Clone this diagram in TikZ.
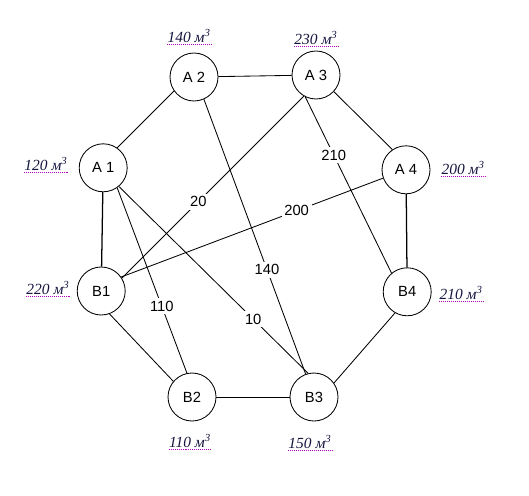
\documentclass[tikz,border=0pt]{standalone}
\usepackage{fontspec}
\setmainfont{Liberation Serif}
\setsansfont{Liberation Sans}
\definecolor{volblue}{rgb}{0.08,0.08,0.25}
\definecolor{dotpurple}{rgb}{0.7,0,0.75}

\begin{document}
\begin{tikzpicture}[
    pt/.style={draw, circle, minimum size=1.2cm, inner sep=0pt, line width=0.6pt,
               font=\sffamily\fontsize{10.5}{12}\selectfont},
    wt/.style={fill=white, inner sep=2pt, font=\sffamily\fontsize{10.5}{12}\selectfont},
    vol/.style={inner sep=0pt, text=volblue, font=\itshape\fontsize{11}{13}\selectfont},
    uline/.style={dotpurple, line width=0.7pt, dash pattern=on 0.6pt off 0.8pt}]
    \useasboundingbox (0,0) rectangle (13.225,12.375);
    \node[pt] (a1) at (2.58,8.18) {A 1};
    \node[pt] (a2) at (4.85,10.45) {A 2};
    \node[pt] (a3) at (7.9,10.5) {A 3};
    \node[pt] (a4) at (10.15,8.13) {A 4};
    \node[pt] (b1) at (2.53,5.1) {B1};
    \node[pt] (b2) at (4.8,2.45) {B2};
    \node[pt] (b3) at (7.85,2.45) {B3};
    \node[pt] (b4) at (10.18,5.08) {B4};
    \draw[line width=0.6pt] (a2) -- (a3);
    \draw[line width=0.6pt] (a1.55) -- (a2.215);
    \draw[line width=0.6pt] (a3.-43) -- (a4.124);
    \draw[line width=0.9pt] (a1) -- (b1);
    \draw[line width=0.9pt] (a4) -- (b4);
    \draw[line width=0.6pt] (b1.-70) -- (b2.140);
    \draw[line width=0.6pt] (b2) -- (b3);
    \draw[line width=0.6pt] (b3.35) -- (b4.-120);
    \draw[line width=0.6pt] (a3.240) -- node[wt, pos=0.58] {20} (b1.32);
    \draw[line width=0.6pt] (a3.244) -- node[wt, pos=0.33] {210} (b4.130);
    \draw[line width=0.6pt] (a4.200) -- node[wt, pos=0.33] {200} (b1.35);
    \draw[line width=0.6pt] (a2.-66) -- node[wt, pos=0.62] {140} (b3.110);
    \draw[line width=0.6pt] (a1.-50) -- node[wt, pos=0.71] {10} (b3.104);
    \draw[line width=0.6pt] (a1.-55) -- node[wt, pos=0.64] {110} (b2.102);
    \node[vol] (v1) at (4.73,11.48) {140 м\textsuperscript{3}};
    \node[vol] (v2) at (7.9,11.43) {230 м\textsuperscript{3}};
    \node[vol] (v3) at (1.15,8.28) {120 м\textsuperscript{3}};
    \node[vol] (v4) at (11.58,8.18) {200 м\textsuperscript{3}};
    \node[vol] (v5) at (1.2,5.18) {220 м\textsuperscript{3}};
    \node[vol] (v6) at (11.53,5.05) {210 м\textsuperscript{3}};
    \node[vol] (v7) at (4.75,1.35) {110 м\textsuperscript{3}};
    \node[vol] (v8) at (7.75,1.33) {150 м\textsuperscript{3}};
    \foreach \v in {v1,v2,v3,v4,v5,v6,v7,v8}
        \draw[uline] ([yshift=-1.8pt]\v.base west) -- ([yshift=-1.8pt]\v.base east);
\end{tikzpicture}
\end{document}
